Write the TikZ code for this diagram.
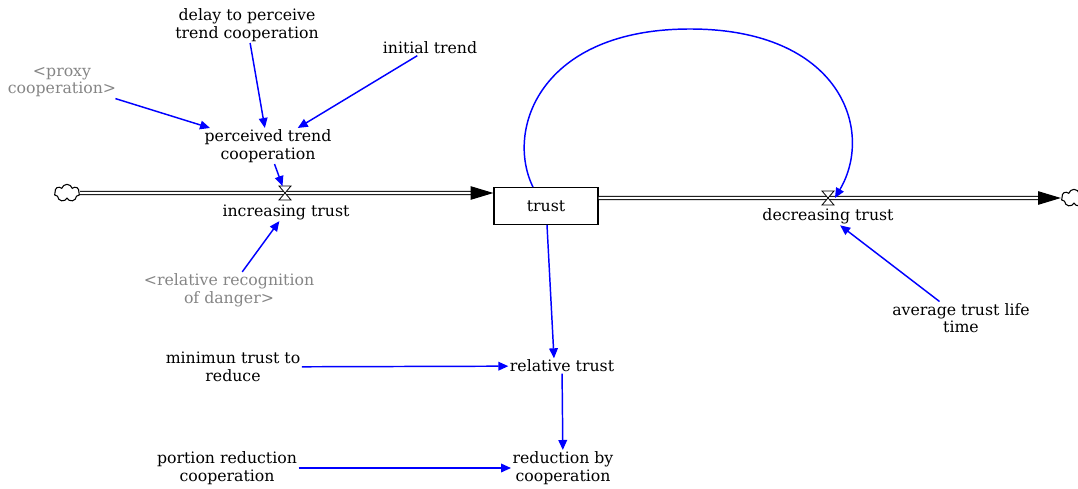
\documentclass[tikz,border=0pt]{standalone}
\usepackage{fontspec}
\setmainfont{DejaVu Serif}
\usepackage{tikz}
\usetikzlibrary{arrows.meta,shapes.symbols}
\definecolor{linkblue}{HTML}{0000FF}
\definecolor{shadowgray}{HTML}{858585}

\begin{document}
\begin{tikzpicture}[x=0.75pt,y=-0.75pt]

  \tikzstyle{var}=[align=center, inner sep=1pt, font=\fontsize{11.8}{13.2}\selectfont]
  \tikzstyle{shadow}=[var, text=shadowgray]
  \tikzstyle{stock}=[draw, line width=0.9pt, minimum width=78pt, minimum height=27.5pt,
                     font=\fontsize{11.8}{13.2}\selectfont]
  \tikzstyle{sink}=[draw, shape=cloud, cloud puffs=7, aspect=1.5, line width=0.8pt,
                    minimum width=19pt, minimum height=13pt, inner sep=0pt]
  \tikzstyle{valve}=[inner sep=0pt, minimum size=10pt]
  \tikzstyle{pipe}=[double, double distance=1.6pt, line width=0.8pt,
                    -{Triangle[length=17pt,width=10pt]}]
  \tikzstyle{link}=[color=linkblue, line width=1.1pt,
                    -{Triangle[length=7.5pt,width=6.5pt]}]

  \useasboundingbox (0,0) rectangle (1078,489);

  \path
  (247,25)  node[var](delay){delay to perceive\\trend cooperation}
  (430,48)  node[var](inittrend){initial trend}
  (62,82)   node[shadow](proxy){<proxy\\cooperation>}
  (268,146) node[var](perctrend){perceived trend\\cooperation};

  \path
  (67,193)   node[sink](source){}
  (285,193)  node[valve](vin){}
  (546,206)  node[stock](trust){trust}
  (828,198)  node[valve](vout){}
  (1074,198) node[sink](sink){};

  \path
  (286,212) node[var](inctrust){increasing trust}
  (828,216) node[var](dectrust){decreasing trust};

  \path
  (229,290) node[shadow](relrec){<relative recognition\\of danger>}
  (961,318) node[var](avglife){average trust life\\time}
  (233,367) node[var](mintrust){minimun trust to\\reduce}
  (562,366) node[var](reltrust){relative trust}
  (227,468) node[var](portion){portion reduction\\cooperation}
  (563,468) node[var](reduction){reduction by\\cooperation};

  % flows
  \draw[pipe] (source) -- (source -| trust.west);
  \draw[pipe] (sink -| trust.east) -- (sink);
  \foreach \v in {vin,vout}
    \draw[fill=white, line width=0.6pt]
      ([shift={(-6,-7)}]\v.center) -- ([shift={(6,-7)}]\v.center)
      -- ([shift={(-6,7)}]\v.center) -- ([shift={(6,7)}]\v.center) -- cycle;

  % links
  \draw[link] (delay) -- (perctrend);
  \draw[link] (inittrend) -- (perctrend);
  \draw[link] (proxy) -- (perctrend);
  \draw[link] (perctrend) -- (vin);
  \draw[link] (relrec) -- (inctrust);
  \draw[link] (avglife) -- (dectrust);
  \draw[link] (trust) -- ([xshift=-6pt]reltrust.north);
  \draw[link] (mintrust) -- (reltrust);
  \draw[link] (reltrust) -- (reduction);
  \draw[link] (portion) -- (reduction);
  \draw[link] ([shift={(-13,0)}]trust.north)
    .. controls (505,130) and (540,29) .. (690,29)
    .. controls (840,29) and (875,130) .. (vout.east);

\end{tikzpicture}
\end{document}
